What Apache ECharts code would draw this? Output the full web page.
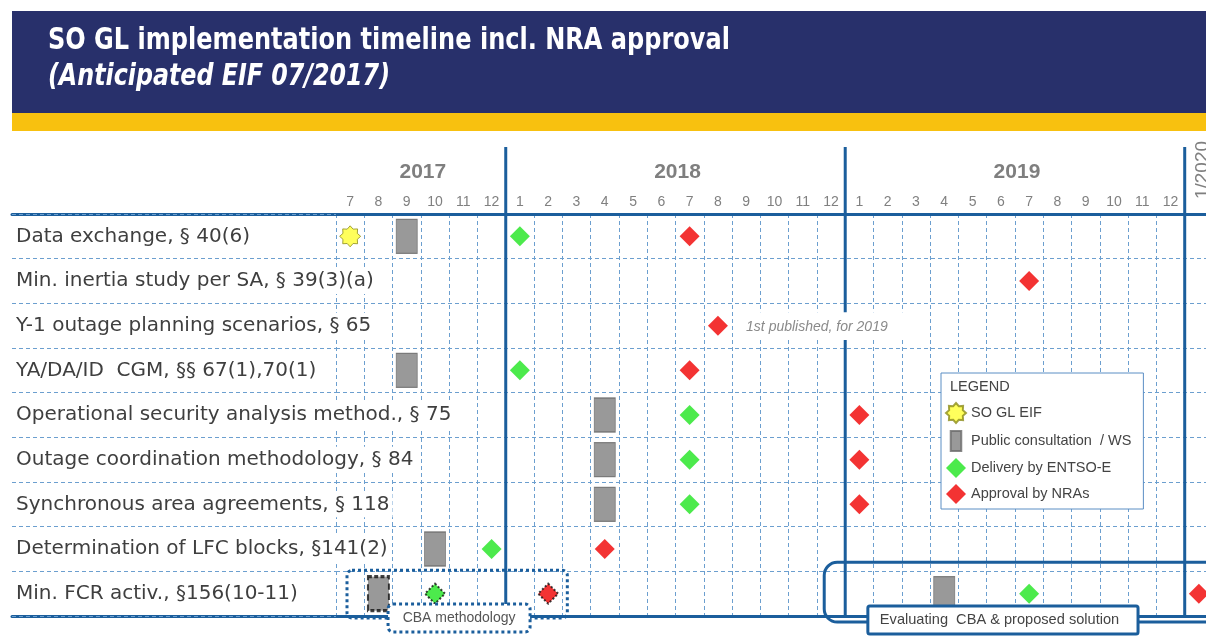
<!DOCTYPE html>
<html>
<head>
<meta charset="utf-8">
<script src="https://cdn.jsdelivr.net/npm/echarts@6/dist/echarts.min.js"></script>
<style>
  html, body { margin: 0; padding: 0; background: #fff; overflow: hidden; }
  #chart { width: 1214px; height: 637px; }
</style>
</head>
<body>
<div id="chart"></div>
<script>
// rows of the timeline
const tasks = [
  'Data exchange, § 40(6)',
  'Min. inertia study per SA, § 39(3)(a)',
  'Y-1 outage planning scenarios, § 65',
  'YA/DA/ID  CGM, §§ 67(1),70(1)',
  'Operational security analysis method., § 75',
  'Outage coordination methodology, § 84',
  'Synchronous area agreements, § 118',
  'Determination of LFC blocks, §141(2)',
  'Min. FCR activ., §156(10-11)'
];

// one column per month, Jul 2017 .. Jan 2020
const months = [
  '2017-07', '2017-08', '2017-09', '2017-10', '2017-11', '2017-12',
  '2018-01', '2018-02', '2018-03', '2018-04', '2018-05', '2018-06',
  '2018-07', '2018-08', '2018-09', '2018-10', '2018-11', '2018-12',
  '2019-01', '2019-02', '2019-03', '2019-04', '2019-05', '2019-06',
  '2019-07', '2019-08', '2019-09', '2019-10', '2019-11', '2019-12',
  '2020-01'
];
const monthTicks = [
  '7', '8', '9', '10', '11', '12',
  '1', '2', '3', '4', '5', '6', '7', '8', '9', '10', '11', '12',
  '1', '2', '3', '4', '5', '6', '7', '8', '9', '10', '11', '12',
  ''
];
const years = [['2017', '2017-07', '2017-12'], ['2018', '2018-01', '2018-12'], ['2019', '2019-01', '2019-12']];
const yearBreaks = ['2018-01', '2019-01', '2020-01'];

// milestones: [task, month]
const soGlEif = [[tasks[0], '2017-07']];
const consultation = [
  [tasks[0], '2017-09'], [tasks[3], '2017-09'], [tasks[4], '2018-04'], [tasks[5], '2018-04'],
  [tasks[6], '2018-04'], [tasks[7], '2017-10'], [tasks[8], '2017-08'], [tasks[8], '2019-04']
];
const delivery = [
  [tasks[0], '2018-01'], [tasks[3], '2018-01'], [tasks[4], '2018-07'], [tasks[5], '2018-07'],
  [tasks[6], '2018-07'], [tasks[7], '2017-12'], [tasks[8], '2017-10'], [tasks[8], '2019-07']
];
const approval = [
  [tasks[0], '2018-07'], [tasks[1], '2019-07'], [tasks[2], '2018-08'], [tasks[3], '2018-07'],
  [tasks[4], '2019-01'], [tasks[5], '2019-01'], [tasks[6], '2019-01'], [tasks[7], '2018-04'],
  [tasks[8], '2018-02'], [tasks[8], '2020-01']
];
// FCR milestones inside the "CBA methodology" phase
const cbaPhase = ['2017-08', '2017-10', '2018-02'];

const BLUE = '#1b5e9c';
const DASH = { color: '#6c9fcf', width: 1, type: [4, 3] };
const SANS = '"Liberation Sans", Arial, sans-serif';
const GRID_TOP = 214, GRID_H = 402;

function starPath(n, R, r) {
  let d = '';
  for (let i = 0; i < 2 * n; i++) {
    const a = (-90 + i * 180 / n) * Math.PI / 180;
    const rad = i % 2 ? r : R;
    d += (i ? 'L' : 'M') + (rad * Math.cos(a)).toFixed(2) + ',' + (rad * Math.sin(a)).toFixed(2);
  }
  return 'path://' + d + 'Z';
}
const STAR = starPath(8, 10, 7.4);
const BAR = 'path://M0,0h10v19h-10z';

function points(list, cbaStyle) {
  return list.map(([t, m]) => {
    const d = { value: [months.indexOf(m) + 0.5, tasks.indexOf(t)] };
    if (cbaStyle && t === tasks[8] && cbaPhase.includes(m)) d.itemStyle = cbaStyle;
    return d;
  });
}

const chart = echarts.init(document.getElementById('chart'));

chart.setOption({
  animation: false,
  grid: [
    { left: 12, top: GRID_TOP, width: 324, height: GRID_H },
    { left: 336, top: GRID_TOP, width: 877, height: GRID_H }
  ],
  xAxis: [
    {
      type: 'category', gridIndex: 1, position: 'top', data: monthTicks, boundaryGap: true,
      axisLine: { lineStyle: { color: BLUE, width: 3 } },
      axisTick: { show: false },
      axisLabel: { color: '#808080', fontSize: 14, fontFamily: SANS, margin: 5, interval: 0 },
      splitLine: { show: false }
    },
    {
      type: 'value', gridIndex: 1, position: 'bottom', min: 0, max: months.length, interval: 1,
      axisLine: { show: true, onZero: false, lineStyle: { color: BLUE, width: 3 } },
      axisTick: { show: false }, axisLabel: { show: false },
      splitLine: { show: true, lineStyle: DASH }
    },
    {
      type: 'value', gridIndex: 0, position: 'top', min: 0, max: 1,
      axisLine: { show: true, onZero: false, lineStyle: { color: BLUE, width: 3 } },
      axisTick: { show: false }, axisLabel: { show: false }, splitLine: { show: false }
    },
    {
      type: 'value', gridIndex: 0, position: 'bottom', min: 0, max: 1,
      axisLine: { show: true, onZero: false, lineStyle: { color: BLUE, width: 3 } },
      axisTick: { show: false }, axisLabel: { show: false }, splitLine: { show: false }
    }
  ],
  yAxis: [
    {
      type: 'category', gridIndex: 0, data: tasks, inverse: true, z: 3,
      axisLine: { show: false }, axisTick: { show: false },
      axisLabel: {
        inside: true, margin: 1, color: '#3f3f3f', fontSize: 20, fontFamily: '"DejaVu Sans", sans-serif',
        backgroundColor: '#fff', padding: [3, 3]
      },
      splitLine: { show: true, lineStyle: DASH }
    },
    {
      type: 'category', gridIndex: 1, data: tasks, inverse: true,
      axisLine: { show: false }, axisTick: { show: false }, axisLabel: { show: false },
      splitLine: { show: true, lineStyle: DASH }
    }
  ],
  legend: {
    left: 941, top: 373, orient: 'vertical', selectedMode: false,
    itemWidth: 20, itemHeight: 20, itemGap: 6, padding: [29, 12, 5, 4],
    backgroundColor: '#fff', borderColor: '#5b8ec4', borderWidth: 1,
    textStyle: { color: '#444', fontSize: 14.5, fontFamily: SANS },
    data: [
      { name: 'SO GL EIF', icon: STAR },
      { name: 'Public consultation  / WS', icon: BAR },
      { name: 'Delivery by ENTSO-E', icon: 'diamond' },
      { name: 'Approval by NRAs', icon: 'diamond' }
    ]
  },
  series: [
    {
      name: 'SO GL EIF', type: 'scatter', xAxisIndex: 1, yAxisIndex: 1,
      symbol: STAR, symbolSize: 21,
      itemStyle: { color: '#ffff33', borderColor: '#8c8c1a', borderWidth: 1 },
      data: points(soGlEif)
    },
    {
      name: 'Public consultation  / WS', type: 'scatter', xAxisIndex: 1, yAxisIndex: 1,
      symbol: 'rect', symbolSize: [21, 34],
      itemStyle: { color: '#808080', borderColor: '#6a6a6a', borderWidth: 1 },
      data: points(consultation, { borderColor: '#111', borderWidth: 2.5, borderType: [5, 3] })
    },
    {
      name: 'Delivery by ENTSO-E', type: 'scatter', xAxisIndex: 1, yAxisIndex: 1,
      symbol: 'diamond', symbolSize: 20,
      itemStyle: { color: '#1fe51f' },
      data: points(delivery, { borderColor: '#111', borderWidth: 2, borderType: [2, 2] })
    },
    {
      name: 'Approval by NRAs', type: 'scatter', xAxisIndex: 1, yAxisIndex: 1,
      symbol: 'diamond', symbolSize: 20,
      itemStyle: { color: '#f00000' },
      data: points(approval, { borderColor: '#111', borderWidth: 2, borderType: [2, 2] })
    }
  ]
});

// decorations placed through the axes' own scales
const px = v => chart.convertToPixel({ xAxisIndex: 1 }, v);
const rowH = GRID_H / tasks.length;
const rowTop = i => GRID_TOP + i * rowH;
const gridBottom = GRID_TOP + GRID_H;
const col = m => months.indexOf(m);

const ctx = document.createElement('canvas').getContext('2d');
function fit(text, font, width) { ctx.font = font; return width / ctx.measureText(text).width; }

const titleFont = 'bold 30px "Liberation Sans Narrow", "DejaVu Sans Condensed", "Liberation Sans", sans-serif';
const subFont = 'italic bold 30px "Liberation Sans Narrow", "DejaVu Sans Condensed", "Liberation Sans", sans-serif';
const title = 'SO GL implementation timeline incl. NRA approval';
const subtitle = '(Anticipated EIF 07/2017)';

const g = [
  { type: 'rect', z: 1, shape: { x: 12, y: 11, width: 1202, height: 102 }, style: { fill: '#28306b' } },
  { type: 'rect', z: 1, shape: { x: 12, y: 113, width: 1202, height: 18 }, style: { fill: '#f8c10f' } },
  { type: 'text', z: 2, x: 48, y: 41, scaleX: fit(title, titleFont, 682),
    style: { text: title, font: titleFont, fill: '#fff', verticalAlign: 'middle' } },
  { type: 'text', z: 2, x: 48, y: 77, scaleX: fit(subtitle, subFont, 342),
    style: { text: subtitle, font: subFont, fill: '#fff', verticalAlign: 'middle' } }
];

years.forEach(([label, a, b]) => {
  g.push({ type: 'text', z: 5, style: {
    text: label, x: (px(col(a)) + px(col(b) + 1)) / 2 + 2, y: 172,
    font: 'bold 21px ' + SANS, fill: '#7f7f7f', align: 'center', verticalAlign: 'middle' } });
});
yearBreaks.forEach(m => {
  const x = px(col(m));
  g.push({ type: 'line', z: 5, shape: { x1: x, y1: 147, x2: x, y2: gridBottom }, style: { stroke: BLUE, lineWidth: 3 } });
});
g.push({ type: 'text', z: 5, x: px(col('2020-01') + 0.5) + 4, y: 170, rotation: Math.PI / 2,
  style: { text: '1/2020', x: 0, y: 0, font: '19px ' + SANS, fill: '#7f7f7f', align: 'center', verticalAlign: 'middle' } });

// legend heading
g.push({ type: 'text', z: 10, style: { text: 'LEGEND', x: 950, y: 387, font: '14.5px ' + SANS, fill: '#444', verticalAlign: 'middle' } });

// note on the Y-1 row
const noteX = px(col('2018-08') + 1) + 14;
g.push({ type: 'rect', z: 8, shape: { x: noteX - 8, y: rowTop(2) + 9, width: 170, height: rowH - 17 }, style: { fill: '#fff' } });
g.push({ type: 'text', z: 9, style: { text: '1st published, for 2019', x: noteX, y: rowTop(2) + rowH / 2 + 1,
  font: 'italic 14px ' + SANS, fill: '#8a8a8a', verticalAlign: 'middle' } });

// CBA methodology phase (dotted)
const cbaL = px(col('2017-07')) + 11, cbaR = px(col('2018-02') + 1) + 5;
const cbaTop = rowTop(8) - 1;
g.push({ type: 'rect', z: 8, shape: { x: cbaL, y: cbaTop, width: cbaR - cbaL, height: gridBottom + 2 - cbaTop, r: 5 },
  style: { fill: 'none', stroke: BLUE, lineWidth: 3, lineDash: [3, 3] } });
const cbaLabL = px(col('2017-08') + 0.84), cbaLabR = px(col('2018-01') + 0.86);
g.push({ type: 'rect', z: 9, shape: { x: cbaLabL, y: gridBottom - 12, width: cbaLabR - cbaLabL, height: 28, r: 5 },
  style: { fill: '#fff', stroke: BLUE, lineWidth: 3, lineDash: [3, 3] } });
g.push({ type: 'text', z: 10, style: { text: 'CBA methodology', x: (cbaLabL + cbaLabR) / 2, y: gridBottom + 2,
  font: '14px ' + SANS, fill: '#555', align: 'center', verticalAlign: 'middle' } });

// evaluation phase (solid)
const evL = px(col('2019-01')) - 21;
const evTop = rowTop(8) - 9;
g.push({ type: 'rect', z: 8, shape: { x: evL, y: evTop, width: 420, height: gridBottom + 6 - evTop, r: 13 },
  style: { fill: 'none', stroke: BLUE, lineWidth: 3 } });
const evLabL = px(col('2019-01') + 0.8), evLabR = px(col('2019-11') + 0.35);
g.push({ type: 'rect', z: 9, shape: { x: evLabL, y: gridBottom - 10, width: evLabR - evLabL, height: 28, r: 2 },
  style: { fill: '#fff', stroke: BLUE, lineWidth: 3 } });
g.push({ type: 'text', z: 10, style: { text: 'Evaluating  CBA & proposed solution', x: evLabL + 12, y: gridBottom + 4,
  font: '14.6px ' + SANS, fill: '#444', verticalAlign: 'middle' } });

chart.setOption({ graphic: g });
</script>
</body>
</html>
